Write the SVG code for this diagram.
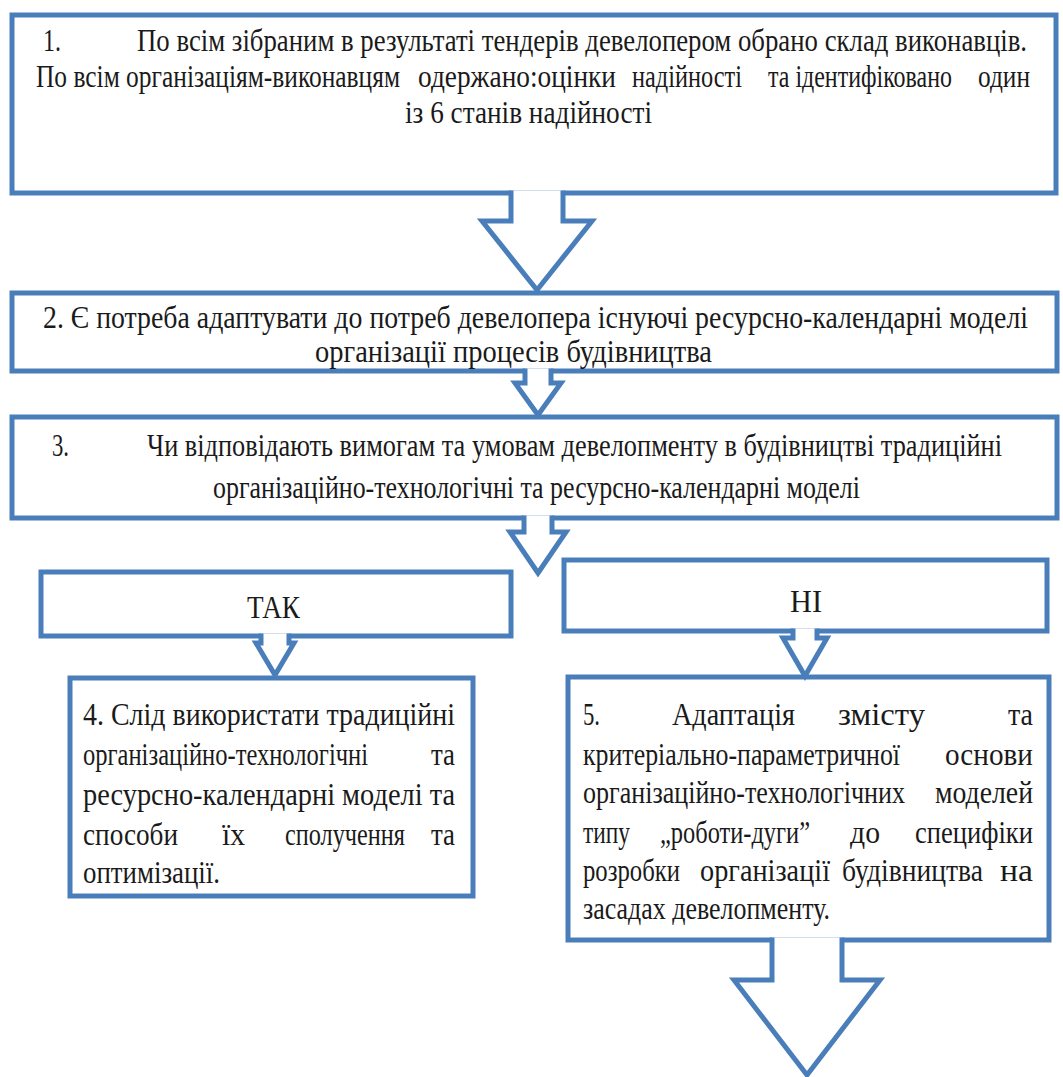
<svg xmlns="http://www.w3.org/2000/svg" width="1063" height="1077" viewBox="0 0 1063 1077">
  <style>
    .box { fill: #ffffff; stroke: #4a7ebb; stroke-width: 5; }
    .arr { fill: #ffffff; stroke: #4a7ebb; stroke-width: 5; stroke-linejoin: miter; }
    .t text { font-family: "Liberation Serif", "DejaVu Serif", serif; font-size: 31px; fill: #1a1a1a; }
  </style>
  <rect width="1063" height="1077" fill="#ffffff"/>

  <!-- step 1 -->
  <g id="node1" class="t">
    <rect class="box" x="12" y="15" width="1044" height="178"/>
    <text x="43" y="51" textLength="18" lengthAdjust="spacingAndGlyphs">1.</text>
    <text x="137" y="51" textLength="890" lengthAdjust="spacingAndGlyphs">По всім зібраним в результаті тендерів девелопером обрано склад виконавців.</text>
    <text x="36" y="87" textLength="364" lengthAdjust="spacingAndGlyphs">По всім організаціям-виконавцям</text>
    <text x="418" y="87" textLength="198" lengthAdjust="spacingAndGlyphs">одержано:оцінки</text>
    <text x="632" y="87" textLength="110" lengthAdjust="spacingAndGlyphs">надійності</text>
    <text x="768" y="87" textLength="184" lengthAdjust="spacingAndGlyphs">та ідентифіковано</text>
    <text x="978" y="87" textLength="52" lengthAdjust="spacingAndGlyphs">один</text>
    <text x="405" y="123" textLength="247" lengthAdjust="spacingAndGlyphs">із 6 станів надійності</text>
  </g>

  <!-- step 2 -->
  <g id="node2" class="t">
    <rect class="box" x="12" y="293" width="1045" height="78"/>
    <text x="43" y="328" textLength="985" lengthAdjust="spacingAndGlyphs">2. Є потреба адаптувати до потреб девелопера існуючі  ресурсно-календарні  моделі</text>
    <text x="315" y="362" textLength="397" lengthAdjust="spacingAndGlyphs">організації  процесів  будівництва</text>
  </g>

  <!-- step 3: the question -->
  <g id="node3" class="t">
    <rect class="box" x="12" y="417" width="1045" height="101"/>
    <text x="52" y="456" textLength="17" lengthAdjust="spacingAndGlyphs">3.</text>
    <text x="147" y="456" textLength="855" lengthAdjust="spacingAndGlyphs">Чи відповідають  вимогам та умовам девелопменту в будівництві  традиційні</text>
    <text x="213" y="498" textLength="647" lengthAdjust="spacingAndGlyphs">організаційно-технологічні  та ресурсно-календарні  моделі</text>
  </g>

  <!-- answer: yes -->
  <g id="node-yes" class="t">
    <rect class="box" x="41" y="572" width="470" height="64"/>
    <text x="247" y="618" textLength="53" lengthAdjust="spacingAndGlyphs">ТАК</text>
  </g>

  <!-- answer: no -->
  <g id="node-no" class="t">
    <rect class="box" x="564" y="560" width="483" height="71"/>
    <text x="790" y="612" textLength="32" lengthAdjust="spacingAndGlyphs">НІ</text>
  </g>

  <!-- step 4 -->
  <g id="node4" class="t">
    <rect class="box" x="70" y="678" width="403" height="218"/>
    <text x="83" y="725" textLength="372" lengthAdjust="spacingAndGlyphs">4. Слід використати традиційні</text>
    <text x="83" y="765" textLength="285" lengthAdjust="spacingAndGlyphs">організаційно-технологічні</text>
    <text x="431" y="765" textLength="24" lengthAdjust="spacingAndGlyphs">та</text>
    <text x="83" y="805" textLength="372" lengthAdjust="spacingAndGlyphs">ресурсно-календарні моделі та</text>
    <text x="83" y="845" textLength="95" lengthAdjust="spacingAndGlyphs">способи</text>
    <text x="222" y="845" textLength="23" lengthAdjust="spacingAndGlyphs">їх</text>
    <text x="285" y="845" textLength="120" lengthAdjust="spacingAndGlyphs">сполучення</text>
    <text x="431" y="845" textLength="24" lengthAdjust="spacingAndGlyphs">та</text>
    <text x="83" y="883" textLength="137" lengthAdjust="spacingAndGlyphs">оптимізації.</text>
  </g>

  <!-- step 5 -->
  <g id="node5" class="t">
    <rect class="box" x="568" y="677" width="481" height="263"/>
    <text x="583" y="725" textLength="17" lengthAdjust="spacingAndGlyphs">5.</text>
    <text x="672" y="725" textLength="123" lengthAdjust="spacingAndGlyphs">Адаптація</text>
    <text x="838" y="725" textLength="87" lengthAdjust="spacingAndGlyphs">змісту</text>
    <text x="1008" y="725" textLength="25" lengthAdjust="spacingAndGlyphs">та</text>
    <text x="583" y="765" textLength="317" lengthAdjust="spacingAndGlyphs">критеріально-параметричної</text>
    <text x="945" y="765" textLength="88" lengthAdjust="spacingAndGlyphs">основи</text>
    <text x="583" y="803" textLength="322" lengthAdjust="spacingAndGlyphs">організаційно-технологічних</text>
    <text x="935" y="803" textLength="98" lengthAdjust="spacingAndGlyphs">моделей</text>
    <text x="583" y="843" textLength="47" lengthAdjust="spacingAndGlyphs">типу</text>
    <text x="660" y="843" textLength="150" lengthAdjust="spacingAndGlyphs">„роботи-дуги”</text>
    <text x="850" y="843" textLength="30" lengthAdjust="spacingAndGlyphs">до</text>
    <text x="915" y="843" textLength="118" lengthAdjust="spacingAndGlyphs">специфіки</text>
    <text x="583" y="881" textLength="97" lengthAdjust="spacingAndGlyphs">розробки</text>
    <text x="700" y="881" textLength="130" lengthAdjust="spacingAndGlyphs">організації</text>
    <text x="842" y="881" textLength="141" lengthAdjust="spacingAndGlyphs">будівництва</text>
    <text x="1000" y="881" textLength="33" lengthAdjust="spacingAndGlyphs">на</text>
    <text x="583" y="919" textLength="247" lengthAdjust="spacingAndGlyphs">засадах девелопменту.</text>
  </g>

  <!-- block arrows, open at the top so they merge with the box above -->
  <g id="connectors">
    <path class="arr" d="M511 190.5 V221 H482 L537 290 L592 221 H563 V190.5"/>
    <path class="arr" d="M525 368.5 V383 H515 L538 415 L561 383 H551 V368.5"/>
    <path class="arr" d="M524 515.5 V532 H510 L538 573 L566 532 H552 V515.5"/>
    <path class="arr" d="M261 633.5 V643 H256 L275 675 L294 643 H289 V633.5"/>
    <path class="arr" d="M793 628.5 V638 H783 L805 676 L827 638 H817 V628.5"/>
    <path class="arr" d="M772 937.5 V980 H734 L807 1075 L880 980 H842 V937.5"/>
  </g>
</svg>
